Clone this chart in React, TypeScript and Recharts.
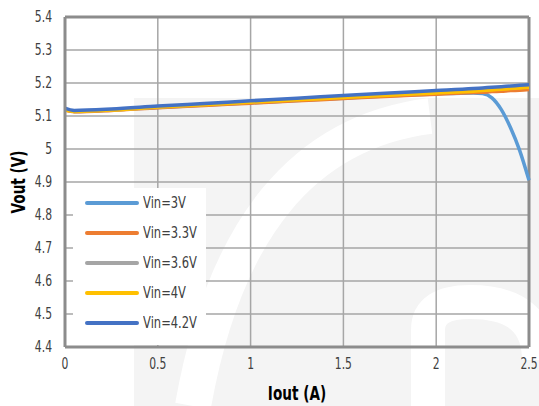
import React from 'react';
import {
  LineChart,
  Line,
  XAxis,
  YAxis,
  CartesianGrid,
  ReferenceLine,
} from 'recharts';

// 출력 전류 (A)
const iout = [0, 0.05, 0.25, 0.5, 0.75, 1, 1.25, 1.5, 1.75, 2, 2.2, 2.25, 2.3, 2.35, 2.4, 2.45, 2.5];

// Vout (V) per input voltage
const vin3 = [5.12, 5.114, 5.118, 5.126, 5.133, 5.14, 5.147, 5.154, 5.161, 5.167, 5.17, 5.168, 5.155, 5.12, 5.065, 4.995, 4.905];
const vin33 = [5.118, 5.113, 5.117, 5.125, 5.132, 5.139, 5.146, 5.153, 5.16, 5.166, 5.171, 5.172, 5.174, 5.175, 5.177, 5.178, 5.18];
const vin36 = [5.12, 5.115, 5.119, 5.127, 5.135, 5.143, 5.15, 5.158, 5.165, 5.172, 5.178, 5.18, 5.182, 5.184, 5.186, 5.188, 5.19];
const vin4 = [5.119, 5.114, 5.118, 5.127, 5.134, 5.142, 5.149, 5.156, 5.163, 5.17, 5.175, 5.177, 5.179, 5.181, 5.183, 5.185, 5.187];
const vin42 = [5.124, 5.117, 5.121, 5.13, 5.138, 5.146, 5.154, 5.162, 5.17, 5.177, 5.183, 5.185, 5.187, 5.189, 5.191, 5.193, 5.195];

const xTicks = [0, 0.5, 1, 1.5, 2, 2.5];
const yTicks = [4.4, 4.5, 4.6, 4.7, 4.8, 4.9, 5, 5.1, 5.2, 5.3, 5.4];

const series = [
  { key: 'v3', name: 'Vin=3V', color: '#5B9BD5', values: vin3 },
  { key: 'v33', name: 'Vin=3.3V', color: '#ED7D31', values: vin33 },
  { key: 'v36', name: 'Vin=3.6V', color: '#A5A5A5', values: vin36 },
  { key: 'v4', name: 'Vin=4V', color: '#FFC000', values: vin4 },
  { key: 'v42', name: 'Vin=4.2V', color: '#4472C4', values: vin42 },
];

const data = iout.map((x, i) => {
  const row: Record<string, number> = { iout: x };
  series.forEach((s) => {
    row[s.key] = s.values[i];
  });
  return row;
});

const FONT = '"DejaVu Sans", sans-serif';
const FRAME = '#8c8c8c';
const NARROW = 0.72; // 좁은 글꼴 흉내

// 눈금 라벨 (가로로 좁힌 텍스트)
const NarrowTick = (props: any) => {
  const { x, y, payload, textAnchor } = props;
  return (
    <text
      transform={`translate(${x},${y}) scale(${NARROW},1)`}
      textAnchor={textAnchor}
      dominantBaseline='central'
      fontSize={15}
      fill='#404040'
      fontFamily={FONT}
    >
      {String(payload.value)}
    </text>
  );
};

const XTitle = (props: any) => {
  const { viewBox } = props;
  const cx = viewBox.x + viewBox.width / 2;
  return (
    <text
      transform={`translate(${cx},393) scale(0.68,1)`}
      textAnchor='middle'
      dominantBaseline='central'
      fontSize={20}
      fontWeight='bold'
      fill='#000'
      fontFamily={FONT}
    >
      Iout (A)
    </text>
  );
};

const YTitle = (props: any) => {
  const { viewBox } = props;
  const cy = viewBox.y + viewBox.height / 2;
  return (
    <text
      transform={`translate(18,${cy}) rotate(-90) scale(0.68,1)`}
      textAnchor='middle'
      dominantBaseline='central'
      fontSize={20}
      fontWeight='bold'
      fill='#000'
      fontFamily={FONT}
    >
      Vout (V)
    </text>
  );
};

// 범례 (플롯 안쪽 흰 박스)
const LegendBox = () => (
  <div
    style={{
      position: 'absolute',
      left: 73,
      top: 188,
      background: '#fff',
      width: 133,
      height: 157,
      overflow: 'hidden',
    }}
  >
    {series.map((s) => (
      <div key={s.key} style={{ position: 'relative', height: 30 }}>
        <div
          style={{
            position: 'absolute',
            left: 12,
            top: 13,
            width: 54,
            height: 4,
            background: s.color,
            borderRadius: 2,
          }}
        />
        <span
          style={{
            position: 'absolute',
            left: 70,
            top: 5,
            lineHeight: '20px',
            fontSize: 16,
            color: '#404040',
            fontFamily: FONT,
            transform: `scaleX(${NARROW})`,
            transformOrigin: 'left center',
            whiteSpace: 'nowrap',
          }}
        >
          {s.name}
        </span>
      </div>
    ))}
  </div>
);

export default function App() {
  return (
    <div style={{ position: 'absolute', left: 0, top: 0, width: 539, height: 406, background: '#fff' }}>
      {/* 배경 워터마크 */}
      <svg width={539} height={406} style={{ position: 'absolute', left: 0, top: 0 }}>
        <rect x={134} y={98} width={405} height={308} fill='#f4f4f4' />
        <path d='M 193 406 Q 240 140 430 116' stroke='#fff' strokeWidth={36} fill='none' />
        <path d='M 428 406 L 428 330 Q 428 302 470 302 Q 539 302 539 360' stroke='#fff' strokeWidth={34} fill='none' />
      </svg>
      <div style={{ position: 'absolute', left: 0, top: 0 }}>
        <LineChart width={539} height={406} data={data} margin={{ top: 17, right: 10, left: 0, bottom: 0 }}>
          <CartesianGrid stroke='#a6a6a6' strokeWidth={1.5} />
          <XAxis
            dataKey='iout'
            type='number'
            domain={[0, 2.5]}
            ticks={xTicks}
            interval={0}
            height={59}
            tickLine={false}
            axisLine={{ stroke: FRAME, strokeWidth: 3 }}
            tick={<NarrowTick />}
            tickMargin={11}
            label={<XTitle />}
          />
          <YAxis
            type='number'
            domain={[4.4, 5.4]}
            ticks={yTicks}
            interval={0}
            width={65}
            tickLine={false}
            axisLine={{ stroke: FRAME, strokeWidth: 3 }}
            tick={<NarrowTick />}
            tickMargin={7}
            label={<YTitle />}
          />
          <ReferenceLine y={5.4} stroke={FRAME} strokeWidth={3} />
          <ReferenceLine x={2.5} stroke={FRAME} strokeWidth={3} />
          {series.map((s) => (
            <Line
              key={s.key}
              dataKey={s.key}
              name={s.name}
              type='monotone'
              stroke={s.color}
              strokeWidth={3.5}
              dot={false}
              isAnimationActive={false}
            />
          ))}
        </LineChart>
      </div>
      <LegendBox />
    </div>
  );
}
